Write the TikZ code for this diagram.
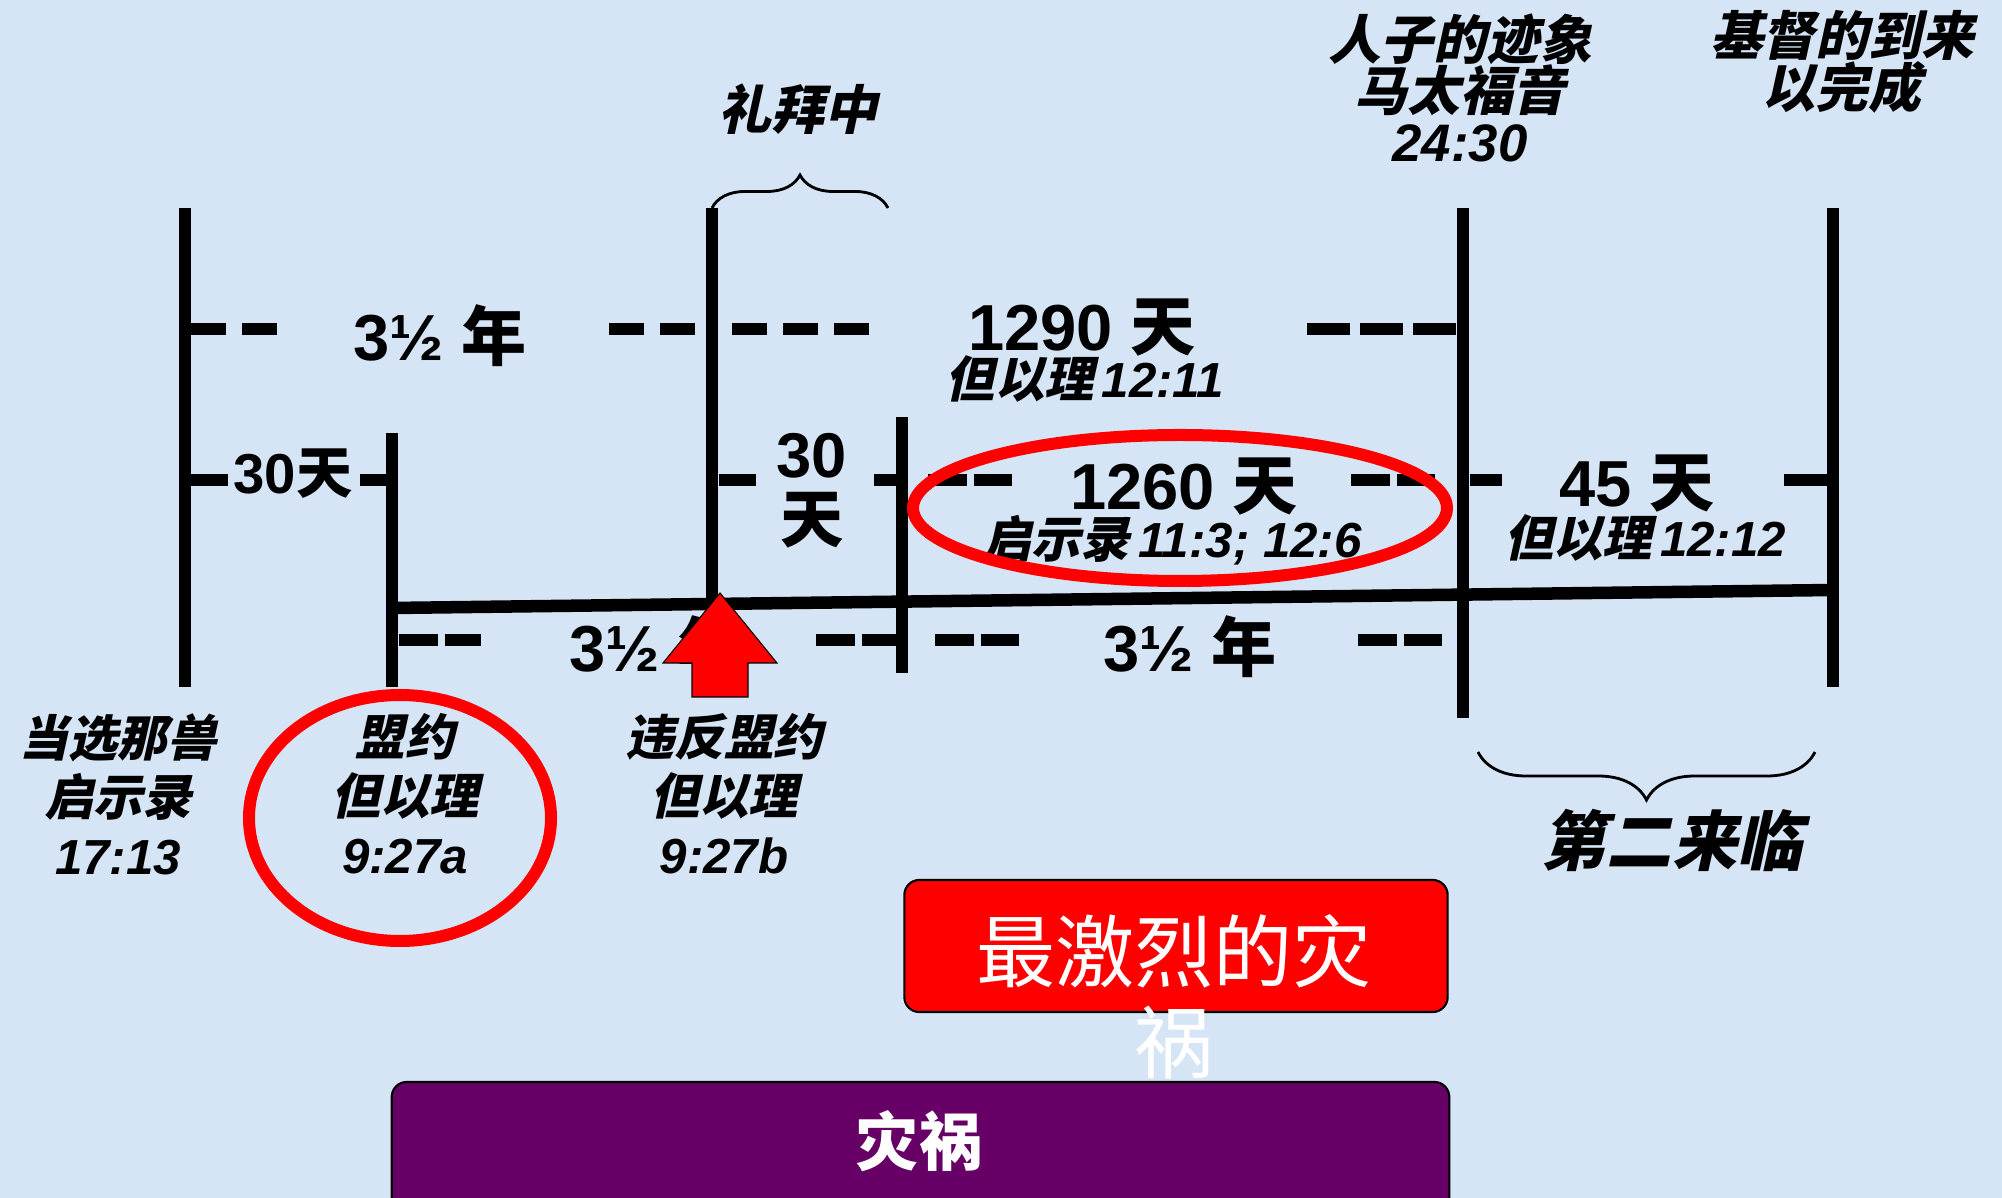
\documentclass[tikz,border=0pt]{standalone}
\usepackage{fontspec}
\setmainfont{Liberation Sans}
\newfontfamily\zh{Noto Sans CJK SC}
\newfontfamily\zhs{Noto Sans CJK SC}[FakeSlant=0.22]
\usetikzlibrary{decorations.pathreplacing}
\definecolor{paper}{HTML}{D6E5F5}
\definecolor{alarm}{HTML}{FF0000}
\definecolor{plum}{HTML}{660066}
\definecolor{ink}{HTML}{000000}
\tikzset{
  % ---- time line -------------------------------------------------
  era/.style      = {draw=ink, line width=1.25mm},
  gapA/.style     = {era, dash pattern=on 3.5mm off 1.6mm},
  gapB/.style     = {era, dash pattern=on 3.85mm off 0.7mm},
  gapC/.style     = {era, dash pattern=on 4.3mm off 1mm},
  % ---- labels ----------------------------------------------------
  spanlbl/.style  = {inner sep=0pt, text=ink, align=center,
                     font=\fontsize{18.5}{19}\selectfont\bfseries},
  spansm/.style   = {spanlbl, font=\fontsize{16}{17}\selectfont\bfseries},
  reflbl/.style   = {inner sep=0pt, text=ink,
                     font=\fontsize{14}{16}\selectfont\bfseries\itshape},
  headlbl/.style  = {inner sep=0pt, text=ink, align=center,
                     font=\fontsize{15}{14.6}\selectfont\bfseries\itshape},
  footlbl/.style  = {inner sep=0pt, text=ink, align=center,
                     font=\fontsize{14}{16.8}\selectfont\bfseries\itshape},
  % ---- marks -----------------------------------------------------
  ring/.style     = {draw=alarm, line width=1.2mm},
  curly/.style    = {draw=ink, line width=.8pt, decorate},
  pointer/.style  = {fill=alarm, draw=ink, line width=.3pt, line join=miter},
  % ---- boxes -----------------------------------------------------
  band/.style     = {draw=ink, line width=.6pt, rounded corners=1.5mm,
                     inner sep=0pt},
  bandtxt/.style  = {inner sep=0pt, text=white, align=center},
}

\begin{document}
\begin{tikzpicture}[x=0.01cm, y=-0.01cm]
  \fill[paper] (0,0) rectangle (2002,1198);
  \useasboundingbox (0,0) rectangle (2002,1198);
  % event lines
  \coordinate (t1) at (185,208);  \coordinate (b1) at (185,687);
  \coordinate (t2) at (392,433);  \coordinate (b2) at (392,687);
  \coordinate (t3) at (712,208);  \coordinate (b3) at (712,604);
  \coordinate (t4) at (902,417);  \coordinate (b4) at (902,673);
  \coordinate (t5) at (1463,208); \coordinate (b5) at (1463,718);
  \coordinate (t6) at (1833,208); \coordinate (b6) at (1833,687);
  \coordinate (k0) at (392,608);  \coordinate (k1) at (1833,590);
  \draw[era] (t1) -- (b1);
  \draw[era] (t2) -- (b2);
  \draw[era] (t3) -- (b3);
  \draw[era] (t4) -- (b4);
  \draw[era] (t5) -- (b5);
  \draw[era] (t6) -- (b6);
  \draw[era] (k0) -- (k1);
  % row 1: 3 1/2 years, 1290 days
  \draw[gapA] (191,329) -- (277,329);
  \draw[gapA] (609,329) -- (695,329);
  \draw[gapA] (732,329) -- (870,329);
  \draw[gapC] (1307,329) -- (1456,329);
  % row 2: 30 days, 1260 days, 45 days
  \draw[era] (191,480) -- (228,480);
  \draw[era] (360,480) -- (392,480);
  \draw[era] (719,480) -- (756,480);
  \draw[era] (874,480) -- (902,480);
  \draw[gapB] (928,480) -- (1016,480);
  \draw[gapB] (1351,480) -- (1439,480);
  \draw[era] (1470,480) -- (1502,480);
  \draw[era] (1784,480) -- (1833,480);
  % row 3: 3 1/2 years twice
  \draw[gapB] (399,640) -- (481,640);
  \draw[gapB] (816,640) -- (899,640);
  \draw[gapB] (935,640) -- (1023,640);
  \draw[gapB] (1358,640) -- (1446,640);

  \node[spanlbl] (yrA) at (440,336) {3½ {\zh 年}};
  \node[spanlbl] (d1290) at (1082,328) {1290 {\zh 天}};
  \node[reflbl] (r1290) at (1085,379) {{\zhs 但以理}\,12:11};
  \node[spansm] (d30a) at (293,474) {30{\zh 天}};
  \node[spanlbl, font=\fontsize{18}{18.5}\selectfont\bfseries] (d30b) at (812,491) {30\\{\zh 天}};
  \node[spanlbl] (d1260) at (1184,487) {1260 {\zh 天}};
  \node[reflbl] (r1260) at (1172,540) {{\zhs 启示录}\,11:3; 12:6};
  \node[spanlbl] (d45) at (1637,484) {45 {\zh 天}};
  \node[reflbl] (r45) at (1645,538) {{\zhs 但以理}\,12:12};
  \node[spanlbl] (yrB) at (656,647) {3½ {\zh 年}};
  \node[spanlbl] (yrC) at (1190,647) {3½ {\zh 年}};

  \node[headlbl] (worship) at (798,109) {\zhs 礼拜中};
  \node[headlbl] (sign) at (1460,88) {{\zhs 人子的迹象}\\{\zhs 马太福音}\\24:30};
  \node[headlbl] (finish) at (1842,62) {{\zhs 基督的到来}\\{\zhs 以完成}};
  \node[footlbl] (beast) at (118,794) {{\zhs 当选那兽}\\{\zhs 启示录}\\17:13};
  \node[footlbl] (pact) at (405,794) {{\zhs 盟约}\\{\zhs 但以理}\\9:27a};
  \node[footlbl] (breach) at (724,794) {{\zhs 违反盟约}\\{\zhs 但以理}\\9:27b};
  \node[headlbl, font=\fontsize{18.5}{20}\selectfont\bfseries\itshape] (advent) at (1672,840) {\zhs 第二来临};

  % braces
  \coordinate (wr) at (888,208);
  \draw[curly, decoration={brace, amplitude=3.3mm}] (t3) -- (wr);
  \coordinate (al) at (1478,752); \coordinate (ar) at (1815,752);
  \draw[curly, decoration={brace, amplitude=4.8mm}] (ar) -- (al);

  % rings and the breach arrow
  \draw[ring] (400,818) ellipse [x radius=151, y radius=123];
  \draw[ring] (1180,508) ellipse [x radius=267, y radius=73];
  \draw[pointer] (720,593) -- (777,663) -- (748,663) -- (748,697)
    -- (692,697) -- (692,663) -- (663,663) -- cycle;

  % tribulation bands
  \node[band, fill=alarm, minimum width=5.43cm, minimum height=1.32cm] (worst) at (1176,946) {};
  \node[bandtxt, font=\fontsize{22.5}{25.9}\selectfont] (worsttxt) at (1174,997) {{\zh 最激烈的灾}\\{\zh 祸}};
  \node[band, fill=plum, minimum width=10.57cm, minimum height=1.33cm] (woe) at (920.5,1148.5) {};
  \node[bandtxt, font=\fontsize{18}{20}\selectfont\bfseries] (woetxt) at (919,1141) {\zh 灾祸};
\end{tikzpicture}
\end{document}
